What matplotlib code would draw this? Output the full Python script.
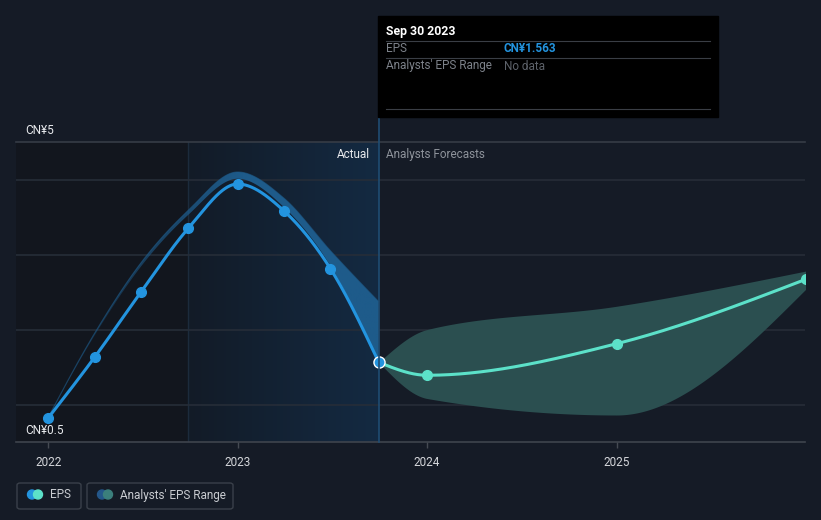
import matplotlib.pyplot as plt
import numpy as np
from matplotlib.patches import FancyBboxPatch, Rectangle, Circle
from matplotlib.lines import Line2D
from matplotlib.colors import LinearSegmentedColormap, to_rgb

plt.rcParams['font.family'] = ['Roboto', 'DejaVu Sans']

W, H = 821, 520

# EPS (actual), quarterly, CN¥
eps_x = [2022.0, 2022.245, 2022.49, 2022.74, 2023.0, 2023.245, 2023.49, 2023.745]
eps_y = [0.82, 1.63, 2.50, 3.35, 3.94, 3.58, 2.81, 1.563]
# past analyst range (thin band above the actual line)
hist_hi = [0.83, 1.95, 2.89, 3.59, 4.10, 3.75, 3.05, 2.37]
hist_lo = [0.82, 1.92, 2.84, 3.53, 4.01, 3.63, 2.85, 1.563]
# forecasts
fc_x = [2023.745, 2024.0, 2025.0, 2026.0]
fc_y = [1.563, 1.39, 1.81, 2.67]
fc_hi = [1.563, 2.00, 2.31, 2.78]
fc_lo = [1.563, 1.08, 0.86, 2.54]

years = [2022, 2023, 2024, 2025]

BG = '#151b26'
BLUE = '#2394df'
TEAL = '#5ce1c9'


def monotone(xs, ys, n=300):
    # d3 style monotoneX curve
    xs = np.asarray(xs, float)
    ys = np.asarray(ys, float)
    h = np.diff(xs)
    s = np.diff(ys) / h
    m = np.zeros_like(ys)
    for i in range(1, len(xs) - 1):
        p = (s[i - 1] * h[i] + s[i] * h[i - 1]) / (h[i - 1] + h[i])
        m[i] = (np.sign(s[i - 1]) + np.sign(s[i])) * min(abs(s[i - 1]), abs(s[i]), 0.5 * abs(p))
    m[0] = (3 * s[0] - m[1]) / 2
    m[-1] = (3 * s[-1] - m[-2]) / 2
    out_x, out_y = [], []
    for i in range(len(xs) - 1):
        t = np.linspace(0, 1, n)
        h00 = 2 * t**3 - 3 * t**2 + 1
        h10 = t**3 - 2 * t**2 + t
        h01 = -2 * t**3 + 3 * t**2
        h11 = t**3 - t**2
        out_x.append(xs[i] + t * h[i])
        out_y.append(h00 * ys[i] + h10 * h[i] * m[i] + h01 * ys[i + 1] + h11 * h[i] * m[i + 1])
    return np.concatenate(out_x), np.concatenate(out_y)


def fx(px):
    return px / W


def fy(py):
    return 1 - py / H


fig = plt.figure(figsize=(W / 100, H / 100), dpi=100)
fig.patch.set_facecolor(BG)
ax = fig.add_axes([fx(16), fy(442), (805 - 16) / W, 300 / H])
ax.set_facecolor(BG)
x0, x1 = 2021.83, 2025.995
ax.set_xlim(x0, x1)
ax.set_ylim(0.5, 4.5)
for sp in ax.spines.values():
    sp.set_visible(False)
ax.set_yticks([])

# shaded past region and highlighted last year
ax.axvspan(x0, 2022.74, color='#12161e', zorder=0, lw=0)
grad = np.linspace(0, 1, 256).reshape(1, -1)
cmap = LinearSegmentedColormap.from_list('hl', ['#121b27', '#142a42'])
ax.imshow(grad, extent=[2022.74, eps_x[-1], 0.5, 4.5], aspect='auto', cmap=cmap, zorder=0.5)
ax.axvline(2022.74, color='#1c2b3c', lw=1, zorder=1)

for g in [1, 2, 3, 4]:
    ax.axhline(g, color='#262d38', lw=1.2, zorder=1)
ax.axhline(4.5, color='#363c46', lw=1.2, zorder=1, clip_on=False)
ax.axhline(0.5, color='#3f444d', lw=1.2, zorder=1, clip_on=False)

# past range band, fading in from the left
hx, hh = monotone(eps_x, hist_hi)
_, hl = monotone(eps_x, hist_lo)
band = ax.fill_between(hx, hl, hh, color='none', lw=0, zorder=2)
rgba = np.zeros((1, 256, 4))
rgba[..., :3] = to_rgb('#1e5b8a')
rgba[..., 3] = np.clip(np.linspace(0.15, 1.6, 256), 0, 1)
img = ax.imshow(rgba, extent=[eps_x[0], eps_x[-1], 0.5, 4.5], aspect='auto', zorder=2)
img.set_clip_path(band.get_paths()[0], transform=ax.transData)
ax.plot(hx, hh, color='#1e5b8a', lw=0.8, alpha=0.6, zorder=2)

# forecast band
fbx, fbh = monotone(fc_x, fc_hi)
_, fbl = monotone(fc_x, fc_lo)
ax.fill_between(fbx, fbl, fbh, color='#2b4f50', lw=0, zorder=2)

# lines
ex, ey = monotone(eps_x, eps_y)
ax.plot(ex, ey, color=BLUE, lw=2.2, zorder=3, solid_capstyle='round')
ax.plot(eps_x[:-1], eps_y[:-1], 'o', color=BLUE, ms=7, zorder=4)
fxs, fys = monotone(fc_x, fc_y)
ax.plot(fxs, fys, color=TEAL, lw=2.2, zorder=3)
ax.plot(fc_x[1:], fc_y[1:], 'o', color=TEAL, ms=7, zorder=4)
ax.plot(eps_x[-1], eps_y[-1], 'o', color=BLUE, ms=8, mec='white', mew=1, zorder=5)
ax.set_xlim(x0, x1)
ax.set_ylim(0.5, 4.5)

# x ticks
ax.set_xticks(years)
ax.set_xticklabels([str(y) for y in years])
ax.tick_params(axis='x', colors='#454a53', length=4, width=1, labelcolor='#d4d6da',
               labelsize=8.5, pad=6)

# divider line at latest actual
fig.add_artist(Line2D([fx(378.5), fx(378.5)], [fy(117), fy(442)], color='#1f4d73', lw=1.2))

fig.text(fx(370), fy(154), 'Actual', color='#e8eaed', fontsize=8.5, ha='right', va='center')
fig.text(fx(386), fy(154), 'Analysts Forecasts', color='#8e939b', fontsize=8.5, ha='left', va='center')
fig.text(fx(25), fy(131), 'CN¥5', color='#e8eaed', fontsize=8.5, ha='left', va='center')
fig.text(fx(25), fy(430), 'CN¥0.5', color='#e8eaed', fontsize=8.5, ha='left', va='center')

# tooltip
fig.add_artist(Rectangle((fx(378), fy(117)), 340 / W, 101 / H, color='black', zorder=5))
for ly in [41, 58, 109]:
    fig.add_artist(Line2D([fx(386), fx(710)], [fy(ly), fy(ly)], color='#3a3e45', lw=0.8, zorder=6))
fig.text(fx(386), fy(31), 'Sep 30 2023', color='white', fontsize=8.8, fontweight='bold',
         va='center', zorder=7)
fig.text(fx(386), fy(49), 'EPS', color='#7d828a', fontsize=8.5, va='center', zorder=7)
fig.text(fx(504), fy(49), 'CN¥1.563', color=BLUE, fontsize=8.5, fontweight='bold', va='center', zorder=7)
fig.text(fx(386), fy(66), "Analysts' EPS Range", color='#7d828a', fontsize=8.5, va='center', zorder=7)
fig.text(fx(504), fy(66), 'No data', color='#5d626a', fontsize=8.5, va='center', zorder=7)

# legend
for (lx0, lx1) in [(17, 81), (87, 233)]:
    fig.add_artist(FancyBboxPatch((fx(lx0), fy(509)), (lx1 - lx0) / W, 26 / H,
                                  boxstyle='round,pad=0,rounding_size=0.004',
                                  fc='none', ec='#3a404a', lw=1))
leg = fig.add_axes([0, 0, 1, 1], facecolor='none')
leg.set_xlim(0, W)
leg.set_ylim(H, 0)
leg.axis('off')
for cx, c in [(32, BLUE), (38, TEAL), (102, '#24578a'), (108, '#3b7f7c')]:
    leg.add_patch(Circle((cx, 494.5), 4.5, color=c))
fig.text(fx(50), fy(495), 'EPS', color='#c9ccd1', fontsize=8.5, va='center')
fig.text(fx(120), fy(495), "Analysts' EPS Range", color='#c9ccd1', fontsize=8.5, va='center')

fig.savefig('out.png', dpi=100, facecolor=BG)
